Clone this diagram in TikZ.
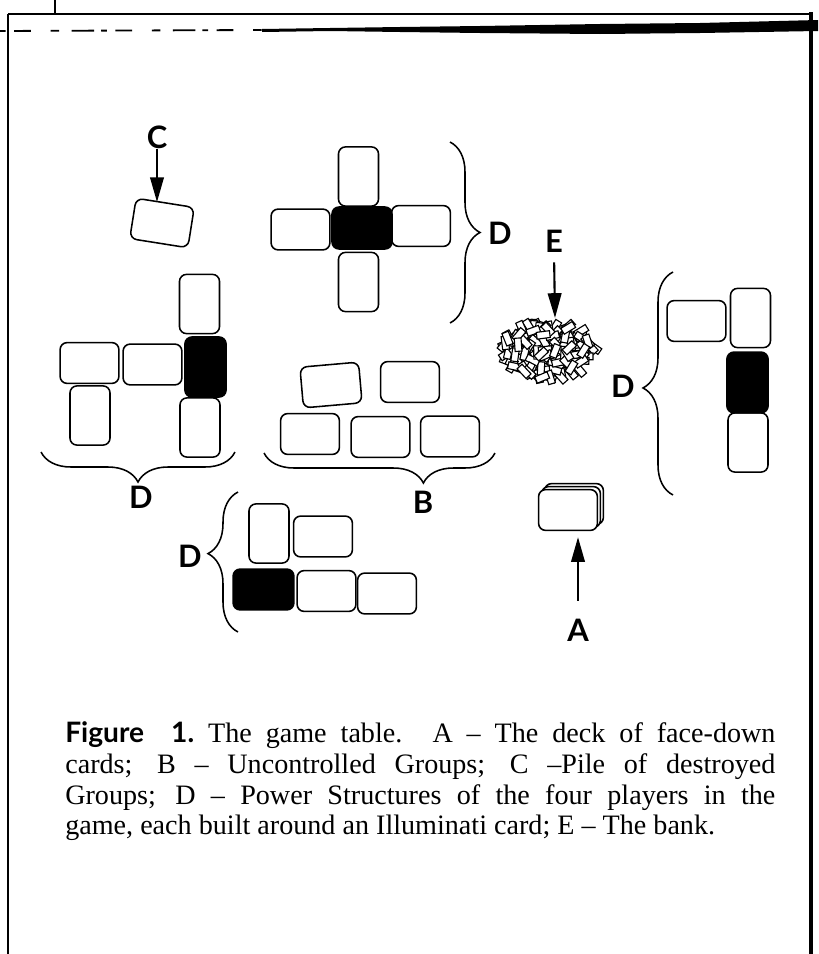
\documentclass[tikz,border=0pt]{standalone}
\usepackage{fontspec}
\setmainfont{Liberation Serif}
\setsansfont{Lato}
\usetikzlibrary{decorations.pathreplacing,arrows.meta}

\tikzset{
    card/.style={draw, line width=1.1pt, rounded corners=5pt, fill=white,
        inner sep=0pt, minimum width=1.47cm, minimum height=1.02cm},
    upcard/.style={card, minimum width=1.0cm, minimum height=1.48cm},
    illum/.style={card, fill=black},
    upillum/.style={upcard, fill=black},
    letter/.style={font=\sffamily\bfseries\fontsize{22}{22}\selectfont, inner sep=0pt},
    pointer/.style={line width=1.5pt, -{Triangle[length=0.62cm,width=0.34cm]}},
    bracket/.style={line width=1.1pt, decorate, decoration={brace, amplitude=0.75cm}},
    chip/.style={draw, line width=0.8pt, fill=white, inner sep=0pt,
        minimum width=0.17cm, minimum height=0.33cm}
}

\begin{document}
\begin{tikzpicture}[x=0.025cm, y=-0.025cm]
    \useasboundingbox (0,0) rectangle (818,954);

    %%the frame and the torn top edge
    \draw[line width=2pt] (8,14) to (8,954);
    \draw[line width=3pt] (811,12) to (811,954);
    \draw[line width=1.2pt] (8,14) to (811,14);
    \draw[line width=1.2pt] (55,0) to (55,14);
    \draw[line width=1.3pt, dash pattern=on 4pt off 6pt on 12pt off 14pt on 6pt off 9pt on 16pt off 5pt] (0,31) to (262,30);
    \fill (262,29) to (330,28) to (400,27) to (480,26) to (600,24) to (700,23) to (818,20)
        to (818,31) to (700,33) to (600,34) to (480,33) to (400,32) to (330,31) to (262,32) -- cycle;

    %%pile of destroyed groups
    \node[letter] (labC) at (157,137) {C};
    \node[card, rotate=-9] (dead) at (162,223) {};
    \draw[pointer] (labC.south) to (labC.south |- dead.north);

    %%north power structure
    \node[upcard] (nT) at (358.5,176.5) {};
    \node[card] (nL) at (300.5,229.5) {};
    \node[card] (nR) at (421,226) {};
    \node[upcard] (nB) at (358.5,282) {};
    \node[illum, minimum width=1.5cm, minimum height=1.05cm] (nI) at (362,228) {};
    \draw[bracket] (450,142) to (450,323);
    \node[letter] (dN) at (500,233) {D};

    %%west power structure
    \node[upcard] (wT) at (199.5,304) {};
    \node[upcard] (wB) at (200,427.5) {};
    \node[upillum, minimum width=1.03cm, minimum height=1.5cm] (wI) at (205.5,367) {};
    \node[card] (wL1) at (89.5,363) {};
    \node[card] (wL2) at (152.5,364.5) {};
    \node[upcard] (wS) at (90,415.5) {};
    \draw[bracket] (235,452) to (41,452);
    \node[letter] (dW) at (141,497) {D};

    %%uncontrolled groups
    \node[card, rotate=5] (bT1) at (331,385) {};
    \node[card] (bT2) at (410,382) {};
    \node[card] (bB1) at (310,434) {};
    \node[card] (bB2) at (380.5,437) {};
    \node[card] (bB3) at (450,436.5) {};
    \draw[bracket, decoration={aspect=0.31}] (495,453) to (264,453);
    \node[letter] (labB) at (423,502) {B};

    %%south power structure
    \node[upcard] (sP) at (269,533.5) {};
    \node[card] (sL) at (323,536.5) {};
    \node[illum, minimum width=1.52cm] (sI) at (263.5,589.5) {};
    \node[card] (sR1) at (326.5,591) {};
    \node[card] (sR2) at (387,593.5) {};
    \draw[bracket, decoration={aspect=0.56}] (238,632) to (238,492);
    \node[letter] (dS) at (190,556) {D};

    %%east power structure
    \node[card] (eL) at (696.5,321) {};
    \node[upcard] (eT) at (750.5,318) {};
    \node[upcard] (eB) at (748,442.5) {};
    \node[upillum, minimum width=1.03cm, minimum height=1.52cm] (eI) at (747.5,382.5) {};
    \draw[bracket, decoration={aspect=0.48}] (673,495) to (673,272);
    \node[letter] (dE) at (623,386) {D};

    %%the bank
    \node[letter] (labE) at (554,241) {E};
    \coordinate (bank) at (555,318);
    \draw[pointer, shorten <=0.25cm] (labE.south) to (bank);
    \pgfmathsetseed{42}
    \foreach \k in {1,...,170}{
        \pgfmathsetmacro\rr{sqrt(rnd)}
        \pgfmathsetmacro\aa{360*rnd}
        \pgfmathsetmacro\tt{180*rnd}
        \node[chip, rotate=\tt] at ({549+46*\rr*cos(\aa)},{350+28*\rr*sin(\aa)}) {};
    }

    %%the deck
    \node[card] (deck3) at (574,504) {};
    \node[card] (deck2) at (571,507) {};
    \node[card] (deck) at (568,510) {};
    \node[letter] (labA) at (578,630) {A};
    \draw[pointer, shorten <=0.45cm, shorten >=0.15cm] (labA.north) to (labA.north |- deck.south);

    %%caption
    \node[anchor=north west, inner sep=0pt, text width=17.75cm, align=justify,
        font=\fontsize{20}{22}\selectfont] (caption) at (65,721)
        {{\sffamily\bfseries Figure\ \ 1.}\ The game table. A – The deck of face-down\linebreak
        cards; B – Uncontrolled Groups; C –Pile of destroyed\linebreak
        Groups; D – Power Structures of the four players in the\linebreak
        game, each built around an Illuminati card; E – The bank.};
\end{tikzpicture}
\end{document}
